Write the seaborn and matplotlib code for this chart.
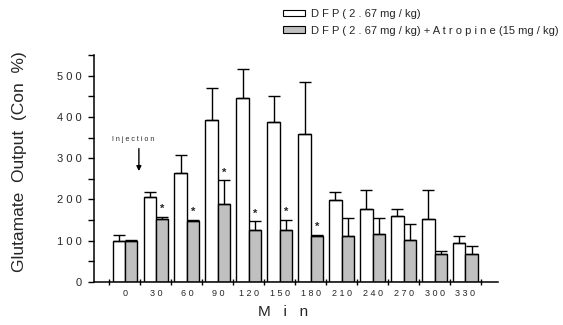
import numpy as np
import pandas as pd
import matplotlib
matplotlib.use("Agg")
import matplotlib.pyplot as plt
from matplotlib.patches import Patch
import seaborn as sns

# Glutamate output (% of control) after DFP injection
minutes = [0, 30, 60, 90, 120, 150, 180, 210, 240, 270, 300, 330]
dfp_mean = [100, 205, 263, 393, 445, 388, 359, 198, 178, 159, 152, 94]
dfp_err = [13, 12, 44, 77, 70, 62, 125, 19, 45, 19, 72, 17]
atr_mean = [100, 152, 148, 190, 127, 127, 111, 111, 116, 101, 67, 67]
atr_err = [2, 6, 2, 56, 20, 23, 4, 45, 40, 39, 9, 20]
significant = [30, 60, 90, 120, 150, 180]

label_dfp = "D F P ( 2 . 67 mg / kg)"
label_atr = "D F P ( 2 . 67 mg / kg) + A t r o p i n e (15 mg / kg)"

sns.set_theme(style="white")
plt.rcParams["font.family"] = ["Liberation Sans", "DejaVu Sans"]

df = pd.DataFrame({
    "Min": [str(m) for m in minutes] * 2,
    "Output": dfp_mean + atr_mean,
    "Group": ["DFP"] * len(minutes) + ["DFP+Atropine"] * len(minutes),
})
order = [str(m) for m in minutes]

fig = plt.figure(figsize=(5.63, 3.25), dpi=100)
ax = fig.add_axes([94 / 563, 1 - 282 / 325, (498 - 94) / 563, (282 - 55) / 325])

sns.barplot(data=df, x="Min", y="Output", hue="Group", order=order,
            hue_order=["DFP", "DFP+Atropine"],
            palette={"DFP": "white", "DFP+Atropine": "#c0c0c0"},
            edgecolor="black", linewidth=1.0, width=0.8,
            errorbar=None, legend=False, ax=ax)

# upward error bars on top of each bar
for cont, errs in zip(ax.containers, [dfp_err, atr_err]):
    xs = [p.get_x() + p.get_width() / 2 for p in cont.patches]
    tops = [p.get_height() for p in cont.patches]
    ax.errorbar(xs, tops, yerr=[np.zeros(len(errs)), errs], fmt="none",
                ecolor="black", elinewidth=1.0, capsize=4.2, capthick=1.0,
                zorder=3)

# significance stars over the atropine group
atr_patches = ax.containers[1].patches
for m in significant:
    i = minutes.index(m)
    p = atr_patches[i]
    ax.annotate("*", (p.get_x() + p.get_width() / 2, atr_mean[i] + atr_err[i]),
                xytext=(0, 2), textcoords="offset points",
                ha="center", va="bottom", fontsize=8, fontweight="bold")

# injection marker
ax.annotate("", xy=(0.45, 262), xytext=(0.45, 330),
            arrowprops=dict(arrowstyle="-|>", color="black", lw=1.0,
                            mutation_scale=7))
ax.text(0.27, 346, "I n j e c t i o n", ha="center", va="center", fontsize=5)

ax.set_xlim(-1.0, 12.05)
ax.set_ylim(0, 550)

# x axis: ticks between groups, labels at group centres
ax.set_xticks(np.arange(len(minutes) + 1) - 0.5)
ax.set_xticklabels([])
ax.set_xticks(np.arange(len(minutes)), minor=True)
ax.set_xticklabels([" ".join(str(m)) for m in minutes], minor=True, fontsize=6.5)
ax.tick_params(axis="x", which="major", direction="inout", length=5, width=1,
               bottom=True, color="black")
ax.tick_params(axis="x", which="minor", length=0, pad=5)

yt = [0, 100, 200, 300, 400, 500]
ax.set_yticks(yt)
ax.set_yticklabels([" ".join(str(v)) for v in yt], fontsize=8)
ax.set_yticks(np.arange(50, 551, 100), minor=True)
ax.tick_params(axis="y", which="both", direction="out", length=4, width=1,
               left=True, color="black", pad=5)

ax.set_xlabel("M   i   n", fontsize=11)
ax.xaxis.set_label_coords(0.468, -0.10)
ax.set_ylabel("Glutamate  Output  (Con  %)", fontsize=12.5)
ax.yaxis.set_label_coords(-0.165, 0.53)

for s in ["top", "right"]:
    ax.spines[s].set_visible(False)
for s in ["left", "bottom"]:
    ax.spines[s].set_color("black")
    ax.spines[s].set_linewidth(1.1)

handles = [Patch(facecolor="white", edgecolor="black", linewidth=0.8, label=label_dfp),
           Patch(facecolor="#c0c0c0", edgecolor="black", linewidth=0.8, label=label_atr)]
fig.legend(handles=handles, loc="upper left", bbox_to_anchor=(283 / 563, 1 - 9 / 325),
           frameon=False, fontsize=8, handlelength=2.0, handleheight=0.55,
           handletextpad=0.5, labelspacing=0.6, borderpad=0, borderaxespad=0)

fig.savefig("out.png", dpi=100)
